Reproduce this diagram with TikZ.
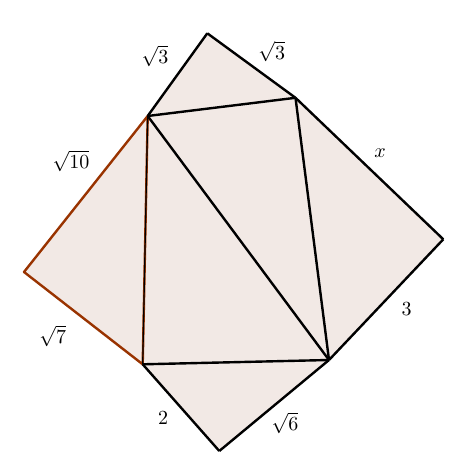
\documentclass[tikz,border=0pt]{standalone}
\usepackage{amsmath,amssymb}
\pgfdeclarelayer{bg}
\pgfsetlayers{bg,main}
\definecolor{paper}{RGB}{242,233,229}
\definecolor{rust}{RGB}{153,51,0}
\tikzset{side/.style={draw=none, fill=none, inner sep=0mm},
    rim/.style={line width=1.2pt, line join=round}}

\begin{document}
\begin{tikzpicture}[x=0.5pt, y=-0.5pt]
    \useasboundingbox (0,0) rectangle (472,476);

    \coordinate (a) at (207.3, 33.3);
    \coordinate (b) at (295.5, 97.8);
    \coordinate (c) at (147.7, 116.0);
    \coordinate (d) at (443.3, 239.3);
    \coordinate (e) at (24.0, 272.0);
    \coordinate (f) at (329.0, 360.0);
    \coordinate (g) at (142.7, 364.3);
    \coordinate (h) at (219.3, 451.0);

    \begin{pgfonlayer}{bg}
        \fill[paper] (a) -- (b) -- (d) -- (f) -- (h) -- (g) -- (e) -- (c) -- cycle;
    \end{pgfonlayer}

    \draw[rim, rust] (c) -- (e) -- (g) -- cycle;

    \draw[rim] (a) -- (b);
    \draw[rim] (a) -- (c);
    \draw[rim] (c) -- (b);
    \draw[rim] (b) -- (d);
    \draw[rim] (d) -- (f);
    \draw[rim] (b) -- (f);
    \draw[rim] (c) -- (f);
    \draw[rim, line width=0.6pt] (c) -- (g);
    \draw[rim] (g) -- (f);
    \draw[rim] (g) -- (h);
    \draw[rim] (h) -- (f);

    \node (ac) [side] at (155.0, 56.0) {$\sqrt{3}$};
    \node (ab) [side] at (271.7, 51.7) {$\sqrt{3}$};
    \node (ce) [side] at (71.0, 161.0) {$\sqrt{10}$};
    \node (eg) [side] at (52.7, 336.0) {$\sqrt{7}$};
    \node (bd) [side] at (380.0, 153.0) {$x$};
    \node (df) [side] at (406.7, 309.0) {$3$};
    \node (gh) [side] at (163.0, 418.0) {$2$};
    \node (hf) [side] at (285.0, 423.0) {$\sqrt{6}$};
\end{tikzpicture}
\end{document}
